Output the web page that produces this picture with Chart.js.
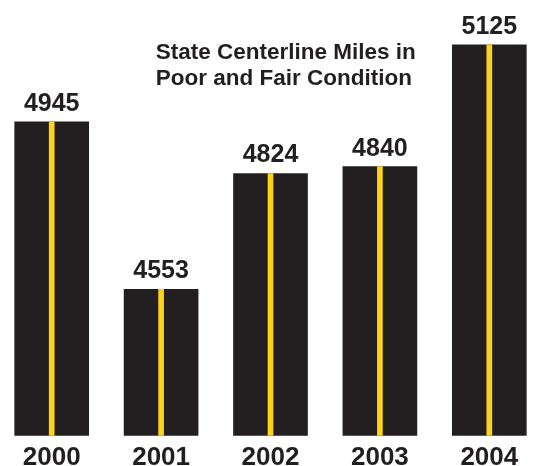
<!DOCTYPE html>
<html>
<head>
<meta charset="utf-8">
<script src="https://cdn.jsdelivr.net/npm/chart.js@4/dist/chart.umd.min.js"></script>
<style>
  html, body { margin: 0; padding: 0; background: #fff; overflow: hidden; }
  body { width: 550px; height: 466px; position: relative; }
  #wrap { position: absolute; left: -3px; top: 0; width: 547px; height: 479px; }
</style>
</head>
<body>
<div id="wrap"><canvas id="chart"></canvas></div>
<script>
const years = ['2000', '2001', '2002', '2003', '2004']
const miles = [4945, 4553, 4824, 4840, 5125]
const titleLines = ['State Centerline Miles in', 'Poor and Fair Condition']

const ink = '#231f20'
const stripe = '#ffd21a'
const font = '"Liberation Sans", Arial, Helvetica, sans-serif'

// value above each bar + the title block inside the plot
const labels = {
    id: 'labels',
    afterDatasetsDraw(chart) {
        const ctx = chart.ctx
        const meta = chart.getDatasetMeta(1)
        ctx.save()
        ctx.fillStyle = ink
        ctx.textAlign = 'center'
        ctx.textBaseline = 'alphabetic'
        ctx.font = 'bold 25px ' + font
        meta.data.forEach((bar, i) => {
            ctx.fillText(String(miles[i]), bar.x, bar.y - 11)
        })
        ctx.font = 'bold 22.5px ' + font
        const cx = chart.chartArea.left + chart.chartArea.width * 0.528
        ctx.fillText(titleLines[0], cx, 59)
        ctx.fillText(titleLines[1], cx - 2, 85)
        ctx.restore()
    }
}

new Chart(document.getElementById('chart'), {
    type: 'bar',
    data: {
        labels: years,
        datasets: [
            {
                data: miles,
                backgroundColor: stripe,
                barThickness: 5,
                grouped: false,
                order: 0
            },
            {
                data: miles,
                backgroundColor: ink,
                barThickness: 74,
                grouped: false,
                order: 1
            }
        ]
    },
    options: {
        animation: false,
        responsive: true,
        maintainAspectRatio: false,
        layout: { padding: 0 },
        plugins: {
            legend: { display: false },
            tooltip: { enabled: false },
            title: { display: false }
        },
        scales: {
            x: {
                grid: { display: false, drawTicks: false },
                border: { display: false },
                ticks: {
                    color: ink,
                    padding: 6,
                    font: { family: font, size: 26, weight: 'bold' }
                }
            },
            y: {
                display: false,
                min: 4210,
                max: 5230
            }
        }
    },
    plugins: [labels]
})
</script>
</body>
</html>
